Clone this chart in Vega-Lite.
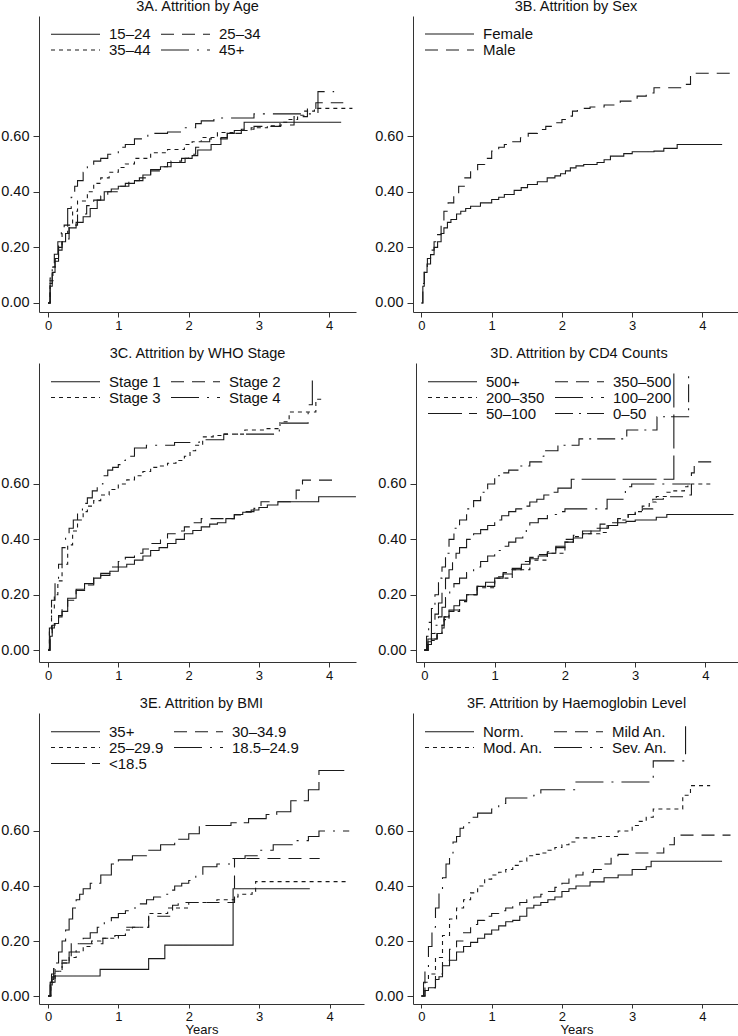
{
"$schema":"https://vega.github.io/schema/vega-lite/v6.json",
"padding":{"left":0,"top":-2,"right":0,"bottom":0},
"config":{
 "view":{"stroke":null},
 "font":"Liberation Sans",
 "axis":{"domainColor":"#333","tickColor":"#333","labelColor":"#111","grid":false,"labelFont":"Liberation Sans","titleFont":"Liberation Sans","titleFontWeight":"normal","titleColor":"#111"},
 "axisX":{"tickSize":5,"labelPadding":2,"titlePadding":1,"labelFontSize":13,"titleFontSize":13.5},
 "axisY":{"tickSize":6,"labelPadding":4,"labelFontSize":14.5},
 "title":{"fontSize":14.5,"fontWeight":"normal","color":"#111","offset":2,"anchor":"middle","frame":"group","baseline":"alphabetic","font":"Liberation Sans"},
 "legend":{"columns":2,"symbolType":"stroke","symbolSize":2401,"symbolStrokeWidth":1,"symbolStrokeColor":"#1a1a1a","labelFontSize":15,"labelFont":"Liberation Sans","labelColor":"#111","labelOffset":8,"columnPadding":9,"rowPadding":0,"clipHeight":15,"padding":0,"labelLimit":200},
 "line":{"interpolate":"step-after","stroke":"#1a1a1a","strokeWidth":1.1}
},
"datasets":{
"A":[
{"g":"15–24","t":0,"v":0},{"g":"15–24","t":0.03,"v":0.06},{"g":"15–24","t":0.06,"v":0.11},{"g":"15–24","t":0.1,"v":0.15},{"g":"15–24","t":0.15,"v":0.19},{"g":"15–24","t":0.2,"v":0.22},{"g":"15–24","t":0.25,"v":0.25},{"g":"15–24","t":0.3,"v":0.27},{"g":"15–24","t":0.4,"v":0.29},{"g":"15–24","t":0.5,"v":0.31},{"g":"15–24","t":0.6,"v":0.34},{"g":"15–24","t":0.7,"v":0.37},{"g":"15–24","t":0.8,"v":0.4},{"g":"15–24","t":0.9,"v":0.41},{"g":"15–24","t":1.0,"v":0.42},{"g":"15–24","t":1.1,"v":0.43},{"g":"15–24","t":1.23,"v":0.44},{"g":"15–24","t":1.35,"v":0.46},{"g":"15–24","t":1.46,"v":0.48},{"g":"15–24","t":1.6,"v":0.49},{"g":"15–24","t":1.7,"v":0.505},{"g":"15–24","t":1.95,"v":0.52},{"g":"15–24","t":2.05,"v":0.53},{"g":"15–24","t":2.13,"v":0.55},{"g":"15–24","t":2.32,"v":0.57},{"g":"15–24","t":2.46,"v":0.595},{"g":"15–24","t":2.55,"v":0.61},{"g":"15–24","t":2.65,"v":0.62},{"g":"15–24","t":2.79,"v":0.65},{"g":"15–24","t":4.17,"v":0.65},
{"g":"25–34","t":0,"v":0},{"g":"25–34","t":0.03,"v":0.07},{"g":"25–34","t":0.06,"v":0.12},{"g":"25–34","t":0.1,"v":0.16},{"g":"25–34","t":0.15,"v":0.2},{"g":"25–34","t":0.2,"v":0.23},{"g":"25–34","t":0.3,"v":0.28},{"g":"25–34","t":0.42,"v":0.32},{"g":"25–34","t":0.55,"v":0.35},{"g":"25–34","t":0.65,"v":0.37},{"g":"25–34","t":0.75,"v":0.385},{"g":"25–34","t":0.85,"v":0.4},{"g":"25–34","t":1.0,"v":0.42},{"g":"25–34","t":1.15,"v":0.44},{"g":"25–34","t":1.3,"v":0.45},{"g":"25–34","t":1.46,"v":0.475},{"g":"25–34","t":1.6,"v":0.49},{"g":"25–34","t":1.75,"v":0.51},{"g":"25–34","t":1.9,"v":0.52},{"g":"25–34","t":2.0,"v":0.535},{"g":"25–34","t":2.1,"v":0.56},{"g":"25–34","t":2.18,"v":0.58},{"g":"25–34","t":2.3,"v":0.59},{"g":"25–34","t":2.55,"v":0.61},{"g":"25–34","t":2.75,"v":0.625},{"g":"25–34","t":2.93,"v":0.635},{"g":"25–34","t":3.31,"v":0.64},{"g":"25–34","t":3.5,"v":0.67},{"g":"25–34","t":3.69,"v":0.7},{"g":"25–34","t":3.81,"v":0.72},{"g":"25–34","t":4.2,"v":0.72},
{"g":"35–44","t":0,"v":0},{"g":"35–44","t":0.03,"v":0.08},{"g":"35–44","t":0.07,"v":0.13},{"g":"35–44","t":0.1,"v":0.163},{"g":"35–44","t":0.15,"v":0.21},{"g":"35–44","t":0.2,"v":0.25},{"g":"35–44","t":0.28,"v":0.28},{"g":"35–44","t":0.35,"v":0.33},{"g":"35–44","t":0.42,"v":0.367},{"g":"35–44","t":0.56,"v":0.4},{"g":"35–44","t":0.65,"v":0.43},{"g":"35–44","t":0.75,"v":0.45},{"g":"35–44","t":0.87,"v":0.47},{"g":"35–44","t":1.0,"v":0.487},{"g":"35–44","t":1.1,"v":0.5},{"g":"35–44","t":1.23,"v":0.52},{"g":"35–44","t":1.46,"v":0.54},{"g":"35–44","t":1.7,"v":0.552},{"g":"35–44","t":1.94,"v":0.57},{"g":"35–44","t":2.05,"v":0.58},{"g":"35–44","t":2.18,"v":0.595},{"g":"35–44","t":2.41,"v":0.613},{"g":"35–44","t":2.65,"v":0.62},{"g":"35–44","t":2.89,"v":0.63},{"g":"35–44","t":3.12,"v":0.637},{"g":"35–44","t":3.3,"v":0.65},{"g":"35–44","t":3.41,"v":0.66},{"g":"35–44","t":3.55,"v":0.675},{"g":"35–44","t":3.64,"v":0.69},{"g":"35–44","t":3.79,"v":0.7},{"g":"35–44","t":4.33,"v":0.7},
{"g":"45+","t":0,"v":0},{"g":"45+","t":0.03,"v":0.09},{"g":"45+","t":0.06,"v":0.14},{"g":"45+","t":0.09,"v":0.175},{"g":"45+","t":0.14,"v":0.22},{"g":"45+","t":0.19,"v":0.26},{"g":"45+","t":0.23,"v":0.28},{"g":"45+","t":0.28,"v":0.34},{"g":"45+","t":0.33,"v":0.38},{"g":"45+","t":0.38,"v":0.42},{"g":"45+","t":0.42,"v":0.44},{"g":"45+","t":0.5,"v":0.47},{"g":"45+","t":0.56,"v":0.49},{"g":"45+","t":0.65,"v":0.51},{"g":"45+","t":0.75,"v":0.52},{"g":"45+","t":0.85,"v":0.535},{"g":"45+","t":1.0,"v":0.56},{"g":"45+","t":1.1,"v":0.57},{"g":"45+","t":1.23,"v":0.59},{"g":"45+","t":1.42,"v":0.61},{"g":"45+","t":1.7,"v":0.615},{"g":"45+","t":1.94,"v":0.63},{"g":"45+","t":2.1,"v":0.645},{"g":"45+","t":2.18,"v":0.655},{"g":"45+","t":2.36,"v":0.665},{"g":"45+","t":2.93,"v":0.68},{"g":"45+","t":3.84,"v":0.76},{"g":"45+","t":4.07,"v":0.76}
],
"B":[
{"g":"Female","t":0,"v":0},{"g":"Female","t":0.02,"v":0.06},{"g":"Female","t":0.04,"v":0.11},{"g":"Female","t":0.08,"v":0.14},{"g":"Female","t":0.13,"v":0.174},{"g":"Female","t":0.18,"v":0.2},{"g":"Female","t":0.23,"v":0.22},{"g":"Female","t":0.28,"v":0.25},{"g":"Female","t":0.32,"v":0.27},{"g":"Female","t":0.37,"v":0.29},{"g":"Female","t":0.42,"v":0.3},{"g":"Female","t":0.5,"v":0.32},{"g":"Female","t":0.56,"v":0.33},{"g":"Female","t":0.63,"v":0.34},{"g":"Female","t":0.7,"v":0.348},{"g":"Female","t":0.84,"v":0.36},{"g":"Female","t":1.0,"v":0.372},{"g":"Female","t":1.1,"v":0.38},{"g":"Female","t":1.18,"v":0.39},{"g":"Female","t":1.32,"v":0.405},{"g":"Female","t":1.42,"v":0.415},{"g":"Female","t":1.51,"v":0.426},{"g":"Female","t":1.65,"v":0.436},{"g":"Female","t":1.79,"v":0.45},{"g":"Female","t":1.9,"v":0.457},{"g":"Female","t":1.98,"v":0.465},{"g":"Female","t":2.05,"v":0.475},{"g":"Female","t":2.12,"v":0.486},{"g":"Female","t":2.2,"v":0.493},{"g":"Female","t":2.31,"v":0.498},{"g":"Female","t":2.5,"v":0.505},{"g":"Female","t":2.6,"v":0.515},{"g":"Female","t":2.69,"v":0.528},{"g":"Female","t":2.88,"v":0.537},{"g":"Female","t":3.0,"v":0.544},{"g":"Female","t":3.31,"v":0.546},{"g":"Female","t":3.45,"v":0.556},{"g":"Female","t":3.64,"v":0.57},{"g":"Female","t":4.28,"v":0.57},
{"g":"Male","t":0,"v":0},{"g":"Male","t":0.02,"v":0.07},{"g":"Male","t":0.04,"v":0.114},{"g":"Male","t":0.085,"v":0.16},{"g":"Male","t":0.13,"v":0.19},{"g":"Male","t":0.18,"v":0.22},{"g":"Male","t":0.23,"v":0.246},{"g":"Male","t":0.28,"v":0.29},{"g":"Male","t":0.32,"v":0.33},{"g":"Male","t":0.38,"v":0.36},{"g":"Male","t":0.46,"v":0.39},{"g":"Male","t":0.53,"v":0.42},{"g":"Male","t":0.61,"v":0.45},{"g":"Male","t":0.7,"v":0.475},{"g":"Male","t":0.8,"v":0.498},{"g":"Male","t":0.9,"v":0.52},{"g":"Male","t":1.0,"v":0.546},{"g":"Male","t":1.1,"v":0.56},{"g":"Male","t":1.18,"v":0.57},{"g":"Male","t":1.3,"v":0.58},{"g":"Male","t":1.41,"v":0.594},{"g":"Male","t":1.52,"v":0.61},{"g":"Male","t":1.65,"v":0.624},{"g":"Male","t":1.77,"v":0.635},{"g":"Male","t":1.89,"v":0.648},{"g":"Male","t":2.0,"v":0.66},{"g":"Male","t":2.08,"v":0.672},{"g":"Male","t":2.15,"v":0.69},{"g":"Male","t":2.22,"v":0.7},{"g":"Male","t":2.4,"v":0.705},{"g":"Male","t":2.6,"v":0.712},{"g":"Male","t":2.83,"v":0.726},{"g":"Male","t":3.07,"v":0.744},{"g":"Male","t":3.2,"v":0.755},{"g":"Male","t":3.31,"v":0.774},{"g":"Male","t":3.71,"v":0.786},{"g":"Male","t":3.83,"v":0.826},{"g":"Male","t":4.4,"v":0.826}
],
"C":[
{"g":"Stage 1","t":0,"v":0},{"g":"Stage 1","t":0.03,"v":0.05},{"g":"Stage 1","t":0.06,"v":0.08},{"g":"Stage 1","t":0.09,"v":0.096},{"g":"Stage 1","t":0.15,"v":0.12},{"g":"Stage 1","t":0.2,"v":0.14},{"g":"Stage 1","t":0.28,"v":0.187},{"g":"Stage 1","t":0.4,"v":0.22},{"g":"Stage 1","t":0.52,"v":0.24},{"g":"Stage 1","t":0.65,"v":0.26},{"g":"Stage 1","t":0.75,"v":0.27},{"g":"Stage 1","t":0.88,"v":0.285},{"g":"Stage 1","t":1.0,"v":0.3},{"g":"Stage 1","t":1.12,"v":0.31},{"g":"Stage 1","t":1.23,"v":0.325},{"g":"Stage 1","t":1.35,"v":0.34},{"g":"Stage 1","t":1.46,"v":0.36},{"g":"Stage 1","t":1.58,"v":0.37},{"g":"Stage 1","t":1.7,"v":0.385},{"g":"Stage 1","t":1.82,"v":0.4},{"g":"Stage 1","t":1.94,"v":0.42},{"g":"Stage 1","t":2.06,"v":0.432},{"g":"Stage 1","t":2.18,"v":0.445},{"g":"Stage 1","t":2.3,"v":0.455},{"g":"Stage 1","t":2.41,"v":0.46},{"g":"Stage 1","t":2.53,"v":0.475},{"g":"Stage 1","t":2.65,"v":0.49},{"g":"Stage 1","t":2.77,"v":0.498},{"g":"Stage 1","t":2.89,"v":0.506},{"g":"Stage 1","t":3.0,"v":0.515},{"g":"Stage 1","t":3.12,"v":0.524},{"g":"Stage 1","t":3.27,"v":0.536},{"g":"Stage 1","t":3.85,"v":0.554},{"g":"Stage 1","t":4.38,"v":0.554},
{"g":"Stage 2","t":0,"v":0},{"g":"Stage 2","t":0.03,"v":0.05},{"g":"Stage 2","t":0.06,"v":0.09},{"g":"Stage 2","t":0.1,"v":0.11},{"g":"Stage 2","t":0.15,"v":0.125},{"g":"Stage 2","t":0.2,"v":0.15},{"g":"Stage 2","t":0.28,"v":0.18},{"g":"Stage 2","t":0.4,"v":0.215},{"g":"Stage 2","t":0.52,"v":0.235},{"g":"Stage 2","t":0.65,"v":0.26},{"g":"Stage 2","t":0.75,"v":0.277},{"g":"Stage 2","t":0.88,"v":0.3},{"g":"Stage 2","t":1.0,"v":0.32},{"g":"Stage 2","t":1.1,"v":0.335},{"g":"Stage 2","t":1.23,"v":0.35},{"g":"Stage 2","t":1.35,"v":0.365},{"g":"Stage 2","t":1.46,"v":0.385},{"g":"Stage 2","t":1.6,"v":0.4},{"g":"Stage 2","t":1.7,"v":0.42},{"g":"Stage 2","t":1.85,"v":0.43},{"g":"Stage 2","t":1.94,"v":0.445},{"g":"Stage 2","t":2.05,"v":0.46},{"g":"Stage 2","t":2.18,"v":0.475},{"g":"Stage 2","t":2.65,"v":0.488},{"g":"Stage 2","t":2.8,"v":0.5},{"g":"Stage 2","t":2.93,"v":0.512},{"g":"Stage 2","t":3.03,"v":0.536},{"g":"Stage 2","t":3.45,"v":0.542},{"g":"Stage 2","t":3.53,"v":0.578},{"g":"Stage 2","t":3.62,"v":0.614},{"g":"Stage 2","t":4.05,"v":0.614},
{"g":"Stage 3","t":0,"v":0},{"g":"Stage 3","t":0.02,"v":0.07},{"g":"Stage 3","t":0.05,"v":0.15},{"g":"Stage 3","t":0.09,"v":0.2},{"g":"Stage 3","t":0.14,"v":0.25},{"g":"Stage 3","t":0.2,"v":0.31},{"g":"Stage 3","t":0.28,"v":0.38},{"g":"Stage 3","t":0.35,"v":0.43},{"g":"Stage 3","t":0.42,"v":0.47},{"g":"Stage 3","t":0.5,"v":0.5},{"g":"Stage 3","t":0.56,"v":0.52},{"g":"Stage 3","t":0.65,"v":0.54},{"g":"Stage 3","t":0.75,"v":0.56},{"g":"Stage 3","t":0.87,"v":0.58},{"g":"Stage 3","t":1.0,"v":0.6},{"g":"Stage 3","t":1.12,"v":0.615},{"g":"Stage 3","t":1.23,"v":0.63},{"g":"Stage 3","t":1.35,"v":0.645},{"g":"Stage 3","t":1.46,"v":0.66},{"g":"Stage 3","t":1.58,"v":0.665},{"g":"Stage 3","t":1.7,"v":0.675},{"g":"Stage 3","t":1.82,"v":0.685},{"g":"Stage 3","t":1.94,"v":0.7},{"g":"Stage 3","t":2.02,"v":0.72},{"g":"Stage 3","t":2.1,"v":0.74},{"g":"Stage 3","t":2.2,"v":0.77},{"g":"Stage 3","t":2.35,"v":0.775},{"g":"Stage 3","t":2.5,"v":0.78},{"g":"Stage 3","t":2.8,"v":0.795},{"g":"Stage 3","t":3.1,"v":0.8},{"g":"Stage 3","t":3.3,"v":0.825},{"g":"Stage 3","t":3.43,"v":0.86},{"g":"Stage 3","t":3.81,"v":0.906},{"g":"Stage 3","t":3.9,"v":0.906},
{"g":"Stage 4","t":0,"v":0},{"g":"Stage 4","t":0.02,"v":0.08},{"g":"Stage 4","t":0.05,"v":0.18},{"g":"Stage 4","t":0.1,"v":0.25},{"g":"Stage 4","t":0.15,"v":0.31},{"g":"Stage 4","t":0.2,"v":0.37},{"g":"Stage 4","t":0.25,"v":0.41},{"g":"Stage 4","t":0.3,"v":0.44},{"g":"Stage 4","t":0.36,"v":0.47},{"g":"Stage 4","t":0.42,"v":0.5},{"g":"Stage 4","t":0.49,"v":0.53},{"g":"Stage 4","t":0.56,"v":0.55},{"g":"Stage 4","t":0.63,"v":0.575},{"g":"Stage 4","t":0.7,"v":0.6},{"g":"Stage 4","t":0.78,"v":0.63},{"g":"Stage 4","t":0.85,"v":0.65},{"g":"Stage 4","t":0.92,"v":0.66},{"g":"Stage 4","t":1.0,"v":0.67},{"g":"Stage 4","t":1.05,"v":0.685},{"g":"Stage 4","t":1.1,"v":0.7},{"g":"Stage 4","t":1.23,"v":0.73},{"g":"Stage 4","t":1.4,"v":0.74},{"g":"Stage 4","t":1.8,"v":0.75},{"g":"Stage 4","t":2.15,"v":0.76},{"g":"Stage 4","t":2.5,"v":0.78},{"g":"Stage 4","t":3.29,"v":0.82},{"g":"Stage 4","t":3.7,"v":0.886},{"g":"Stage 4","t":3.76,"v":1.0},{"g":"Stage 4","t":3.77,"v":1.0}
],
"D":[
{"g":"500+","t":0,"v":0},{"g":"500+","t":0.05,"v":0.02},{"g":"500+","t":0.1,"v":0.04},{"g":"500+","t":0.18,"v":0.06},{"g":"500+","t":0.25,"v":0.08},{"g":"500+","t":0.28,"v":0.12},{"g":"500+","t":0.35,"v":0.14},{"g":"500+","t":0.42,"v":0.16},{"g":"500+","t":0.5,"v":0.18},{"g":"500+","t":0.6,"v":0.2},{"g":"500+","t":0.75,"v":0.23},{"g":"500+","t":0.87,"v":0.245},{"g":"500+","t":1.0,"v":0.26},{"g":"500+","t":1.12,"v":0.275},{"g":"500+","t":1.25,"v":0.29},{"g":"500+","t":1.38,"v":0.31},{"g":"500+","t":1.5,"v":0.33},{"g":"500+","t":1.62,"v":0.34},{"g":"500+","t":1.75,"v":0.35},{"g":"500+","t":1.87,"v":0.37},{"g":"500+","t":2.0,"v":0.39},{"g":"500+","t":2.12,"v":0.405},{"g":"500+","t":2.25,"v":0.42},{"g":"500+","t":2.37,"v":0.43},{"g":"500+","t":2.5,"v":0.44},{"g":"500+","t":2.62,"v":0.45},{"g":"500+","t":2.75,"v":0.46},{"g":"500+","t":2.87,"v":0.465},{"g":"500+","t":3.0,"v":0.47},{"g":"500+","t":3.3,"v":0.48},{"g":"500+","t":3.45,"v":0.49},{"g":"500+","t":4.4,"v":0.49},
{"g":"350–500","t":0,"v":0},{"g":"350–500","t":0.05,"v":0.02},{"g":"350–500","t":0.1,"v":0.04},{"g":"350–500","t":0.18,"v":0.06},{"g":"350–500","t":0.25,"v":0.09},{"g":"350–500","t":0.28,"v":0.12},{"g":"350–500","t":0.35,"v":0.145},{"g":"350–500","t":0.5,"v":0.18},{"g":"350–500","t":0.6,"v":0.2},{"g":"350–500","t":0.75,"v":0.23},{"g":"350–500","t":1.0,"v":0.265},{"g":"350–500","t":1.12,"v":0.28},{"g":"350–500","t":1.25,"v":0.295},{"g":"350–500","t":1.38,"v":0.32},{"g":"350–500","t":1.5,"v":0.335},{"g":"350–500","t":1.62,"v":0.345},{"g":"350–500","t":1.75,"v":0.355},{"g":"350–500","t":1.87,"v":0.375},{"g":"350–500","t":2.0,"v":0.4},{"g":"350–500","t":2.12,"v":0.415},{"g":"350–500","t":2.25,"v":0.43},{"g":"350–500","t":2.37,"v":0.44},{"g":"350–500","t":2.5,"v":0.455},{"g":"350–500","t":2.6,"v":0.46},{"g":"350–500","t":2.75,"v":0.475},{"g":"350–500","t":2.9,"v":0.49},{"g":"350–500","t":3.0,"v":0.5},{"g":"350–500","t":3.1,"v":0.51},{"g":"350–500","t":3.25,"v":0.545},{"g":"350–500","t":3.4,"v":0.554},{"g":"350–500","t":3.72,"v":0.56},{"g":"350–500","t":3.8,"v":0.64},{"g":"350–500","t":3.84,"v":0.68},{"g":"350–500","t":4.16,"v":0.68},
{"g":"200–350","t":0,"v":0},{"g":"200–350","t":0.05,"v":0.02},{"g":"200–350","t":0.1,"v":0.035},{"g":"200–350","t":0.18,"v":0.06},{"g":"200–350","t":0.25,"v":0.09},{"g":"200–350","t":0.28,"v":0.11},{"g":"200–350","t":0.35,"v":0.14},{"g":"200–350","t":0.5,"v":0.175},{"g":"200–350","t":0.6,"v":0.2},{"g":"200–350","t":0.75,"v":0.225},{"g":"200–350","t":1.0,"v":0.26},{"g":"200–350","t":1.25,"v":0.29},{"g":"200–350","t":1.5,"v":0.325},{"g":"200–350","t":1.75,"v":0.35},{"g":"200–350","t":2.0,"v":0.39},{"g":"200–350","t":2.12,"v":0.41},{"g":"200–350","t":2.25,"v":0.42},{"g":"200–350","t":2.5,"v":0.425},{"g":"200–350","t":2.6,"v":0.45},{"g":"200–350","t":2.75,"v":0.47},{"g":"200–350","t":2.9,"v":0.49},{"g":"200–350","t":3.0,"v":0.5},{"g":"200–350","t":3.1,"v":0.52},{"g":"200–350","t":3.2,"v":0.535},{"g":"200–350","t":3.3,"v":0.555},{"g":"200–350","t":3.45,"v":0.57},{"g":"200–350","t":3.55,"v":0.575},{"g":"200–350","t":3.7,"v":0.59},{"g":"200–350","t":3.75,"v":0.6},{"g":"200–350","t":4.07,"v":0.6},
{"g":"100–200","t":0,"v":0},{"g":"100–200","t":0.05,"v":0.03},{"g":"100–200","t":0.1,"v":0.06},{"g":"100–200","t":0.15,"v":0.09},{"g":"100–200","t":0.2,"v":0.12},{"g":"100–200","t":0.25,"v":0.155},{"g":"100–200","t":0.3,"v":0.19},{"g":"100–200","t":0.36,"v":0.215},{"g":"100–200","t":0.42,"v":0.24},{"g":"100–200","t":0.5,"v":0.26},{"g":"100–200","t":0.6,"v":0.28},{"g":"100–200","t":0.7,"v":0.3},{"g":"100–200","t":0.8,"v":0.32},{"g":"100–200","t":0.9,"v":0.34},{"g":"100–200","t":1.0,"v":0.36},{"g":"100–200","t":1.1,"v":0.375},{"g":"100–200","t":1.2,"v":0.39},{"g":"100–200","t":1.3,"v":0.405},{"g":"100–200","t":1.4,"v":0.42},{"g":"100–200","t":1.45,"v":0.44},{"g":"100–200","t":1.5,"v":0.46},{"g":"100–200","t":1.62,"v":0.475},{"g":"100–200","t":1.75,"v":0.49},{"g":"100–200","t":1.88,"v":0.5},{"g":"100–200","t":2.0,"v":0.51},{"g":"100–200","t":2.6,"v":0.545},{"g":"100–200","t":2.86,"v":0.59},{"g":"100–200","t":2.95,"v":0.6},{"g":"100–200","t":3.78,"v":0.6},
{"g":"50–100","t":0,"v":0},{"g":"50–100","t":0.05,"v":0.04},{"g":"50–100","t":0.1,"v":0.1},{"g":"50–100","t":0.15,"v":0.13},{"g":"50–100","t":0.2,"v":0.17},{"g":"50–100","t":0.25,"v":0.22},{"g":"50–100","t":0.3,"v":0.26},{"g":"50–100","t":0.35,"v":0.29},{"g":"50–100","t":0.4,"v":0.32},{"g":"50–100","t":0.45,"v":0.35},{"g":"50–100","t":0.5,"v":0.37},{"g":"50–100","t":0.6,"v":0.4},{"g":"50–100","t":0.7,"v":0.42},{"g":"50–100","t":0.8,"v":0.435},{"g":"50–100","t":0.9,"v":0.45},{"g":"50–100","t":1.0,"v":0.47},{"g":"50–100","t":1.1,"v":0.485},{"g":"50–100","t":1.2,"v":0.5},{"g":"50–100","t":1.3,"v":0.51},{"g":"50–100","t":1.4,"v":0.52},{"g":"50–100","t":1.5,"v":0.535},{"g":"50–100","t":1.6,"v":0.545},{"g":"50–100","t":1.7,"v":0.56},{"g":"50–100","t":1.8,"v":0.57},{"g":"50–100","t":1.9,"v":0.585},{"g":"50–100","t":2.09,"v":0.617},{"g":"50–100","t":3.55,"v":1.0},{"g":"50–100","t":3.56,"v":1.0},
{"g":"0–50","t":0,"v":0},{"g":"0–50","t":0.03,"v":0.05},{"g":"0–50","t":0.06,"v":0.1},{"g":"0–50","t":0.1,"v":0.15},{"g":"0–50","t":0.15,"v":0.2},{"g":"0–50","t":0.2,"v":0.26},{"g":"0–50","t":0.25,"v":0.3},{"g":"0–50","t":0.3,"v":0.35},{"g":"0–50","t":0.35,"v":0.4},{"g":"0–50","t":0.42,"v":0.44},{"g":"0–50","t":0.5,"v":0.47},{"g":"0–50","t":0.6,"v":0.51},{"g":"0–50","t":0.7,"v":0.54},{"g":"0–50","t":0.8,"v":0.57},{"g":"0–50","t":0.9,"v":0.6},{"g":"0–50","t":1.0,"v":0.63},{"g":"0–50","t":1.1,"v":0.64},{"g":"0–50","t":1.2,"v":0.65},{"g":"0–50","t":1.35,"v":0.665},{"g":"0–50","t":1.5,"v":0.68},{"g":"0–50","t":1.67,"v":0.7},{"g":"0–50","t":1.7,"v":0.72},{"g":"0–50","t":1.9,"v":0.74},{"g":"0–50","t":2.2,"v":0.763},{"g":"0–50","t":2.88,"v":0.795},{"g":"0–50","t":3.31,"v":0.843},{"g":"0–50","t":3.76,"v":1.0},{"g":"0–50","t":3.77,"v":1.0}
],
"E":[
{"g":"35+","t":0,"v":0},{"g":"35+","t":0.04,"v":0.05},{"g":"35+","t":0.1,"v":0.073},{"g":"35+","t":0.74,"v":0.097},{"g":"35+","t":1.43,"v":0.136},{"g":"35+","t":1.66,"v":0.185},{"g":"35+","t":2.63,"v":0.39},{"g":"35+","t":3.72,"v":0.39},
{"g":"30–34.9","t":0,"v":0},{"g":"30–34.9","t":0.04,"v":0.06},{"g":"30–34.9","t":0.08,"v":0.1},{"g":"30–34.9","t":0.2,"v":0.13},{"g":"30–34.9","t":0.33,"v":0.19},{"g":"30–34.9","t":0.78,"v":0.21},{"g":"30–34.9","t":0.95,"v":0.22},{"g":"30–34.9","t":1.1,"v":0.25},{"g":"30–34.9","t":1.43,"v":0.29},{"g":"30–34.9","t":1.77,"v":0.33},{"g":"30–34.9","t":1.85,"v":0.34},{"g":"30–34.9","t":2.65,"v":0.5},{"g":"30–34.9","t":3.86,"v":0.5},
{"g":"25–29.9","t":0,"v":0},{"g":"25–29.9","t":0.04,"v":0.05},{"g":"25–29.9","t":0.1,"v":0.09},{"g":"25–29.9","t":0.2,"v":0.12},{"g":"25–29.9","t":0.3,"v":0.14},{"g":"25–29.9","t":0.4,"v":0.16},{"g":"25–29.9","t":0.5,"v":0.18},{"g":"25–29.9","t":0.62,"v":0.2},{"g":"25–29.9","t":0.75,"v":0.21},{"g":"25–29.9","t":1.0,"v":0.22},{"g":"25–29.9","t":1.1,"v":0.24},{"g":"25–29.9","t":1.2,"v":0.25},{"g":"25–29.9","t":1.43,"v":0.3},{"g":"25–29.9","t":1.7,"v":0.32},{"g":"25–29.9","t":2.0,"v":0.34},{"g":"25–29.9","t":2.4,"v":0.35},{"g":"25–29.9","t":2.65,"v":0.36},{"g":"25–29.9","t":2.7,"v":0.37},{"g":"25–29.9","t":2.9,"v":0.38},{"g":"25–29.9","t":2.95,"v":0.416},{"g":"25–29.9","t":4.28,"v":0.416},
{"g":"18.5–24.9","t":0,"v":0},{"g":"18.5–24.9","t":0.03,"v":0.04},{"g":"18.5–24.9","t":0.06,"v":0.07},{"g":"18.5–24.9","t":0.1,"v":0.09},{"g":"18.5–24.9","t":0.2,"v":0.12},{"g":"18.5–24.9","t":0.3,"v":0.16},{"g":"18.5–24.9","t":0.4,"v":0.19},{"g":"18.5–24.9","t":0.5,"v":0.21},{"g":"18.5–24.9","t":0.6,"v":0.23},{"g":"18.5–24.9","t":0.7,"v":0.25},{"g":"18.5–24.9","t":0.8,"v":0.27},{"g":"18.5–24.9","t":0.9,"v":0.285},{"g":"18.5–24.9","t":1.0,"v":0.3},{"g":"18.5–24.9","t":1.1,"v":0.31},{"g":"18.5–24.9","t":1.2,"v":0.32},{"g":"18.5–24.9","t":1.3,"v":0.335},{"g":"18.5–24.9","t":1.4,"v":0.35},{"g":"18.5–24.9","t":1.5,"v":0.36},{"g":"18.5–24.9","t":1.6,"v":0.37},{"g":"18.5–24.9","t":1.7,"v":0.385},{"g":"18.5–24.9","t":1.8,"v":0.4},{"g":"18.5–24.9","t":1.9,"v":0.41},{"g":"18.5–24.9","t":2.0,"v":0.42},{"g":"18.5–24.9","t":2.1,"v":0.44},{"g":"18.5–24.9","t":2.2,"v":0.47},{"g":"18.5–24.9","t":2.4,"v":0.48},{"g":"18.5–24.9","t":2.6,"v":0.5},{"g":"18.5–24.9","t":2.8,"v":0.51},{"g":"18.5–24.9","t":3.0,"v":0.53},{"g":"18.5–24.9","t":3.2,"v":0.55},{"g":"18.5–24.9","t":3.5,"v":0.565},{"g":"18.5–24.9","t":3.7,"v":0.58},{"g":"18.5–24.9","t":3.85,"v":0.6},{"g":"18.5–24.9","t":4.28,"v":0.6},
{"g":"<18.5","t":0,"v":0},{"g":"<18.5","t":0.03,"v":0.05},{"g":"<18.5","t":0.05,"v":0.08},{"g":"<18.5","t":0.1,"v":0.12},{"g":"<18.5","t":0.15,"v":0.16},{"g":"<18.5","t":0.2,"v":0.2},{"g":"<18.5","t":0.25,"v":0.24},{"g":"<18.5","t":0.3,"v":0.28},{"g":"<18.5","t":0.35,"v":0.32},{"g":"<18.5","t":0.4,"v":0.35},{"g":"<18.5","t":0.45,"v":0.37},{"g":"<18.5","t":0.5,"v":0.39},{"g":"<18.5","t":0.6,"v":0.41},{"g":"<18.5","t":0.75,"v":0.44},{"g":"<18.5","t":0.9,"v":0.48},{"g":"<18.5","t":1.0,"v":0.495},{"g":"<18.5","t":1.2,"v":0.51},{"g":"<18.5","t":1.4,"v":0.53},{"g":"<18.5","t":1.6,"v":0.55},{"g":"<18.5","t":1.8,"v":0.57},{"g":"<18.5","t":2.0,"v":0.59},{"g":"<18.5","t":2.15,"v":0.62},{"g":"<18.5","t":2.6,"v":0.63},{"g":"<18.5","t":2.85,"v":0.645},{"g":"<18.5","t":3.1,"v":0.66},{"g":"<18.5","t":3.25,"v":0.67},{"g":"<18.5","t":3.45,"v":0.71},{"g":"<18.5","t":3.7,"v":0.75},{"g":"<18.5","t":3.85,"v":0.82},{"g":"<18.5","t":4.21,"v":0.82}
],
"F":[
{"g":"Norm.","t":0,"v":0},{"g":"Norm.","t":0.05,"v":0.02},{"g":"Norm.","t":0.1,"v":0.03},{"g":"Norm.","t":0.2,"v":0.06},{"g":"Norm.","t":0.25,"v":0.07},{"g":"Norm.","t":0.3,"v":0.11},{"g":"Norm.","t":0.4,"v":0.13},{"g":"Norm.","t":0.5,"v":0.16},{"g":"Norm.","t":0.6,"v":0.18},{"g":"Norm.","t":0.7,"v":0.195},{"g":"Norm.","t":0.8,"v":0.21},{"g":"Norm.","t":0.9,"v":0.225},{"g":"Norm.","t":1.0,"v":0.24},{"g":"Norm.","t":1.1,"v":0.255},{"g":"Norm.","t":1.2,"v":0.27},{"g":"Norm.","t":1.3,"v":0.275},{"g":"Norm.","t":1.4,"v":0.29},{"g":"Norm.","t":1.5,"v":0.32},{"g":"Norm.","t":1.6,"v":0.33},{"g":"Norm.","t":1.7,"v":0.34},{"g":"Norm.","t":1.8,"v":0.35},{"g":"Norm.","t":1.9,"v":0.36},{"g":"Norm.","t":2.0,"v":0.38},{"g":"Norm.","t":2.1,"v":0.39},{"g":"Norm.","t":2.2,"v":0.4},{"g":"Norm.","t":2.4,"v":0.415},{"g":"Norm.","t":2.6,"v":0.43},{"g":"Norm.","t":2.8,"v":0.44},{"g":"Norm.","t":3.0,"v":0.46},{"g":"Norm.","t":3.2,"v":0.47},{"g":"Norm.","t":3.27,"v":0.49},{"g":"Norm.","t":4.28,"v":0.49},
{"g":"Mild An.","t":0,"v":0},{"g":"Mild An.","t":0.05,"v":0.02},{"g":"Mild An.","t":0.1,"v":0.03},{"g":"Mild An.","t":0.2,"v":0.08},{"g":"Mild An.","t":0.3,"v":0.13},{"g":"Mild An.","t":0.4,"v":0.17},{"g":"Mild An.","t":0.5,"v":0.2},{"g":"Mild An.","t":0.6,"v":0.23},{"g":"Mild An.","t":0.7,"v":0.26},{"g":"Mild An.","t":0.8,"v":0.275},{"g":"Mild An.","t":0.9,"v":0.29},{"g":"Mild An.","t":1.0,"v":0.3},{"g":"Mild An.","t":1.1,"v":0.31},{"g":"Mild An.","t":1.2,"v":0.32},{"g":"Mild An.","t":1.3,"v":0.33},{"g":"Mild An.","t":1.4,"v":0.34},{"g":"Mild An.","t":1.5,"v":0.35},{"g":"Mild An.","t":1.6,"v":0.36},{"g":"Mild An.","t":1.7,"v":0.37},{"g":"Mild An.","t":1.8,"v":0.38},{"g":"Mild An.","t":1.9,"v":0.395},{"g":"Mild An.","t":2.0,"v":0.41},{"g":"Mild An.","t":2.1,"v":0.425},{"g":"Mild An.","t":2.2,"v":0.44},{"g":"Mild An.","t":2.3,"v":0.45},{"g":"Mild An.","t":2.45,"v":0.46},{"g":"Mild An.","t":2.6,"v":0.48},{"g":"Mild An.","t":2.7,"v":0.51},{"g":"Mild An.","t":2.8,"v":0.515},{"g":"Mild An.","t":3.0,"v":0.52},{"g":"Mild An.","t":3.45,"v":0.55},{"g":"Mild An.","t":3.6,"v":0.585},{"g":"Mild An.","t":4.4,"v":0.585},
{"g":"Mod. An.","t":0,"v":0},{"g":"Mod. An.","t":0.05,"v":0.05},{"g":"Mod. An.","t":0.1,"v":0.08},{"g":"Mod. An.","t":0.2,"v":0.14},{"g":"Mod. An.","t":0.3,"v":0.22},{"g":"Mod. An.","t":0.4,"v":0.28},{"g":"Mod. An.","t":0.5,"v":0.32},{"g":"Mod. An.","t":0.6,"v":0.35},{"g":"Mod. An.","t":0.7,"v":0.375},{"g":"Mod. An.","t":0.8,"v":0.4},{"g":"Mod. An.","t":0.9,"v":0.425},{"g":"Mod. An.","t":1.0,"v":0.44},{"g":"Mod. An.","t":1.1,"v":0.45},{"g":"Mod. An.","t":1.2,"v":0.46},{"g":"Mod. An.","t":1.3,"v":0.475},{"g":"Mod. An.","t":1.4,"v":0.49},{"g":"Mod. An.","t":1.5,"v":0.51},{"g":"Mod. An.","t":1.6,"v":0.515},{"g":"Mod. An.","t":1.7,"v":0.52},{"g":"Mod. An.","t":1.8,"v":0.53},{"g":"Mod. An.","t":1.9,"v":0.54},{"g":"Mod. An.","t":2.0,"v":0.55},{"g":"Mod. An.","t":2.1,"v":0.56},{"g":"Mod. An.","t":2.2,"v":0.575},{"g":"Mod. An.","t":2.5,"v":0.58},{"g":"Mod. An.","t":2.8,"v":0.6},{"g":"Mod. An.","t":3.0,"v":0.62},{"g":"Mod. An.","t":3.1,"v":0.635},{"g":"Mod. An.","t":3.2,"v":0.65},{"g":"Mod. An.","t":3.3,"v":0.68},{"g":"Mod. An.","t":3.72,"v":0.73},{"g":"Mod. An.","t":3.83,"v":0.765},{"g":"Mod. An.","t":4.11,"v":0.765},
{"g":"Sev. An.","t":0,"v":0},{"g":"Sev. An.","t":0.03,"v":0.05},{"g":"Sev. An.","t":0.05,"v":0.1},{"g":"Sev. An.","t":0.1,"v":0.18},{"g":"Sev. An.","t":0.15,"v":0.25},{"g":"Sev. An.","t":0.2,"v":0.32},{"g":"Sev. An.","t":0.25,"v":0.38},{"g":"Sev. An.","t":0.3,"v":0.43},{"g":"Sev. An.","t":0.35,"v":0.48},{"g":"Sev. An.","t":0.4,"v":0.52},{"g":"Sev. An.","t":0.45,"v":0.56},{"g":"Sev. An.","t":0.5,"v":0.58},{"g":"Sev. An.","t":0.55,"v":0.61},{"g":"Sev. An.","t":0.6,"v":0.63},{"g":"Sev. An.","t":0.7,"v":0.65},{"g":"Sev. An.","t":0.8,"v":0.665},{"g":"Sev. An.","t":1.0,"v":0.68},{"g":"Sev. An.","t":1.1,"v":0.7},{"g":"Sev. An.","t":1.2,"v":0.72},{"g":"Sev. An.","t":1.6,"v":0.73},{"g":"Sev. An.","t":1.7,"v":0.75},{"g":"Sev. An.","t":2.2,"v":0.778},{"g":"Sev. An.","t":3.3,"v":0.855},{"g":"Sev. An.","t":3.76,"v":0.994},{"g":"Sev. An.","t":3.77,"v":0.994}
]
},
"resolve":{"scale":{"strokeDash":"independent"}},
"spacing":13,
"vconcat":[
{"hconcat":[
 {"title":"3A. Attrition by Age","width":317,"height":296,"data":{"name":"A"},"mark":{"type":"line"},
  "encoding":{
   "x":{"field":"t","type":"quantitative","scale":{"domain":[-0.128,4.381],"nice":false,"zero":false},"axis":{"values":[0,1,2,3,4],"format":"d","title":null}},
   "y":{"field":"v","type":"quantitative","scale":{"domain":[-0.0324,1.032],"nice":false,"zero":false},"axis":{"values":[0,0.2,0.4,0.6],"format":".2f","title":null}},
   "strokeDash":{"field":"g","type":"nominal","scale":{"domain":["15–24","35–44","25–34","45+"],"range":[[1,0],[4,4],[13,8],[28,8,2,8]]},"legend":{"title":null,"orient":"none","legendX":11,"legendY":10.5}}}},
 {"title":"3B. Attrition by Sex","width":326,"height":296,"data":{"name":"B"},"mark":{"type":"line"},
  "encoding":{
   "x":{"field":"t","type":"quantitative","scale":{"domain":[-0.12,4.52],"nice":false,"zero":false},"axis":{"values":[0,1,2,3,4],"format":"d","title":null}},
   "y":{"field":"v","type":"quantitative","scale":{"domain":[-0.0324,1.032],"nice":false,"zero":false},"axis":{"values":[0,0.2,0.4,0.6],"format":".2f","title":null}},
   "strokeDash":{"field":"g","type":"nominal","scale":{"domain":["Female","Male"],"range":[[1,0],[13,8]]},"legend":{"title":null,"orient":"none","legendX":11,"legendY":10.5,"columns":1}}}}
 ],"spacing":18,"resolve":{"scale":{"strokeDash":"independent"}}},
{"hconcat":[
 {"title":"3C. Attrition by WHO Stage","width":317,"height":299,"data":{"name":"C"},"mark":{"type":"line"},
  "encoding":{
   "x":{"field":"t","type":"quantitative","scale":{"domain":[-0.128,4.381],"nice":false,"zero":false},"axis":{"values":[0,1,2,3,4],"format":"d","title":null}},
   "y":{"field":"v","type":"quantitative","scale":{"domain":[-0.043,1.037],"nice":false,"zero":false},"axis":{"values":[0,0.2,0.4,0.6],"format":".2f","title":null}},
   "strokeDash":{"field":"g","type":"nominal","scale":{"domain":["Stage 1","Stage 3","Stage 2","Stage 4"],"range":[[1,0],[4,4],[13,8],[28,8,2,8]]},"legend":{"title":null,"orient":"none","legendX":11,"legendY":11}}}},
 {"title":"3D. Attrition by CD4 Counts","width":326,"height":299,"data":{"name":"D"},"mark":{"type":"line"},
  "encoding":{
   "x":{"field":"t","type":"quantitative","scale":{"domain":[-0.12,4.52],"nice":false,"zero":false},"axis":{"values":[0,1,2,3,4],"format":"d","title":null}},
   "y":{"field":"v","type":"quantitative","scale":{"domain":[-0.043,1.037],"nice":false,"zero":false},"axis":{"values":[0,0.2,0.4,0.6],"format":".2f","title":null}},
   "strokeDash":{"field":"g","type":"nominal","scale":{"domain":["500+","200–350","50–100","350–500","100–200","0–50"],"range":[[1,0],[4,4],[34,7],[13,8],[28,8,2,8],[18,6,2,6]]},"legend":{"title":null,"orient":"none","legendX":11,"legendY":11}}}}
 ],"spacing":18,"resolve":{"scale":{"strokeDash":"independent"}}},
{"hconcat":[
 {"title":"3E. Attrition by BMI","width":325,"height":291,"data":{"name":"E"},"mark":{"type":"line"},
  "encoding":{
   "x":{"field":"t","type":"quantitative","scale":{"domain":[-0.128,4.49],"nice":false,"zero":false},"axis":{"values":[0,1,2,3,4],"format":"d","title":"Years","tickSize":4,"titlePadding":0,"titleFontSize":13}},
   "y":{"field":"v","type":"quantitative","scale":{"domain":[-0.029,1.029],"nice":false,"zero":false},"axis":{"values":[0,0.2,0.4,0.6],"format":".2f","title":null}},
   "strokeDash":{"field":"g","type":"nominal","scale":{"domain":["35+","25–29.9","<18.5","30–34.9","18.5–24.9"],"range":[[1,0],[4,4],[34,7],[13,8],[28,8,2,8]]},"legend":{"title":null,"orient":"none","legendX":11,"legendY":11}}}},
 {"title":"3F. Attrition by Haemoglobin Level","width":327,"height":291,"data":{"name":"F"},"mark":{"type":"line"},
  "encoding":{
   "x":{"field":"t","type":"quantitative","scale":{"domain":[-0.12,4.535],"nice":false,"zero":false},"axis":{"values":[0,1,2,3,4],"format":"d","title":"Years","tickSize":4,"titlePadding":0,"titleFontSize":13}},
   "y":{"field":"v","type":"quantitative","scale":{"domain":[-0.029,1.029],"nice":false,"zero":false},"axis":{"values":[0,0.2,0.4,0.6],"format":".2f","title":null}},
   "strokeDash":{"field":"g","type":"nominal","scale":{"domain":["Norm.","Mod. An.","Mild An.","Sev. An."],"range":[[1,0],[4,4],[13,8],[28,8,2,8]]},"legend":{"title":null,"orient":"none","legendX":11,"legendY":11}}}}
 ],"spacing":10,"resolve":{"scale":{"strokeDash":"independent"}}}
]
}
